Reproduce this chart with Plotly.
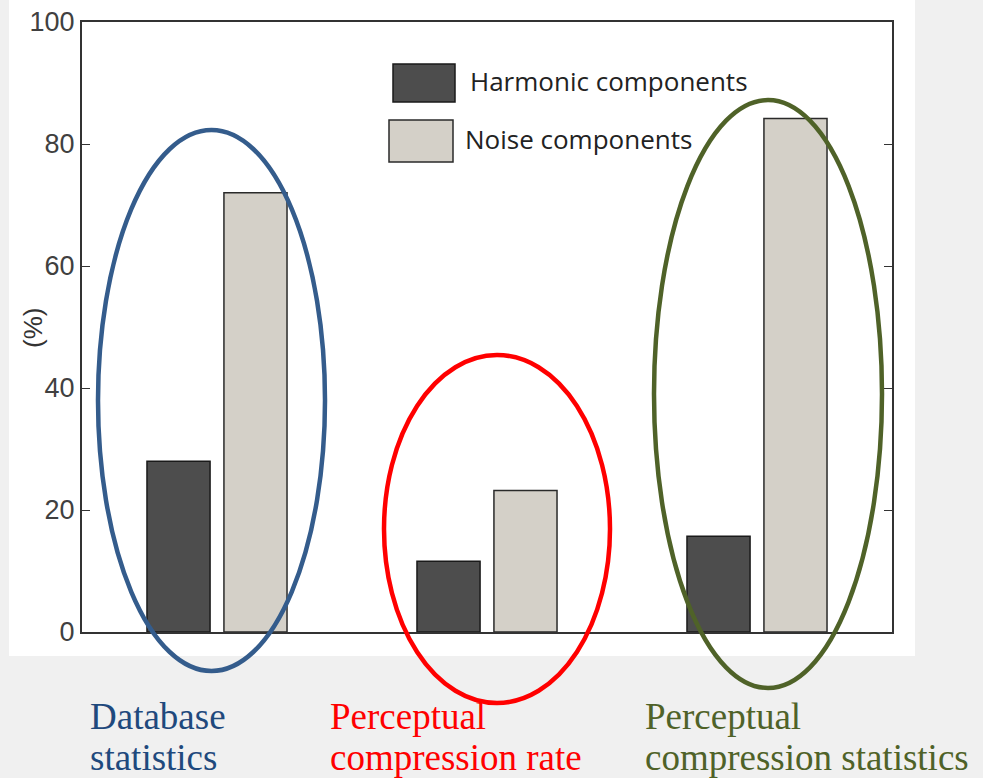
import plotly.graph_objects as go

categories = ["Database statistics", "Perceptual compression rate", "Perceptual compression statistics"]
series_names = ["Harmonic components", "Noise components"]
harmonic = [28.0, 11.6, 15.7]
noise = [72.0, 23.2, 84.2]
y_ticks = [0, 20, 40, 60, 80, 100]
y_title = "(%)"
label_lines = [["Database", "statistics"], ["Perceptual", "compression rate"], ["Perceptual", "compression statistics"]]

W, H = 983, 778
L, R, T, B = 82, 91, 22, 146
PW, PH = W - L - R, H - T - B

def px(x):
    return (x - L) / PW

def py(y):
    return (H - B - y) / PH

fig = go.Figure()
fig.add_trace(go.Bar(x=categories, y=harmonic, name=series_names[0],
                     marker=dict(color="#4d4d4d", line=dict(color="#1a1a1a", width=1.5))))
fig.add_trace(go.Bar(x=categories, y=noise, name=series_names[1],
                     marker=dict(color="#d4d0c8", line=dict(color="#2a2a2a", width=1.5))))

shapes = []
# white panel behind chart
shapes.append(dict(type="rect", xref="paper", yref="paper", x0=px(9), x1=px(915), y0=py(656), y1=py(0),
                   fillcolor="white", line=dict(width=0), layer="below"))
# legend swatches
shapes.append(dict(type="rect", xref="paper", yref="paper", x0=px(393), x1=px(455), y0=py(102), y1=py(64),
                   fillcolor="#4d4d4d", line=dict(color="#1a1a1a", width=1.5)))
shapes.append(dict(type="rect", xref="paper", yref="paper", x0=px(389), x1=px(453), y0=py(162), y1=py(120),
                   fillcolor="#d4d0c8", line=dict(color="#2a2a2a", width=1.5)))
# ellipses
ell = [((98, 130, 325, 671), "#345c8c"), ((384, 355, 610, 703), "#ff0000"), ((654, 100, 882, 688), "#4f6228")]
for (x0, y0, x1, y1), c in ell:
    shapes.append(dict(type="circle", xref="paper", yref="paper", x0=px(x0), x1=px(x1), y0=py(y1), y1=py(y0),
                       line=dict(color=c, width=4.5), fillcolor="rgba(0,0,0,0)", layer="above"))

annotations = [
    dict(xref="paper", yref="paper", x=px(468), y=py(81), xanchor="left", yanchor="middle",
         text=series_names[0], showarrow=False, font=dict(family="Open Sans", size=26, color="#222")),
    dict(xref="paper", yref="paper", x=px(463), y=py(139), xanchor="left", yanchor="middle",
         text=series_names[1], showarrow=False, font=dict(family="Open Sans", size=26, color="#222")),
    dict(xref="paper", yref="paper", x=px(33), y=py(328), xanchor="center", yanchor="middle",
         text=y_title, textangle=-90, showarrow=False,
         font=dict(family="Liberation Sans", size=26, color="#333")),
]
label_x = [88, 328, 643]
label_colors = ["#1f497d", "#ff0000", "#4f6228"]
line_centers = [716, 757]
for lines, lx, lc in zip(label_lines, label_x, label_colors):
    for line, cy in zip(lines, line_centers):
        annotations.append(dict(xref="paper", yref="paper", x=px(lx), y=py(cy), xanchor="left", yanchor="middle",
                                text=line, showarrow=False,
                                font=dict(family="Liberation Serif", size=37, color=lc)))

fig.update_layout(
    width=W, height=H, margin=dict(l=L, r=R, t=T, b=B, pad=0, autoexpand=False),
    paper_bgcolor="#f0f0f0", plot_bgcolor="white",
    barmode="group", bargap=0.43, bargroupgap=0.18,
    showlegend=False, shapes=shapes, annotations=annotations,
    xaxis=dict(range=[-0.5, 2.5], showticklabels=False, ticks="", showline=True, linecolor="#333",
               linewidth=2, mirror=True, showgrid=False, zeroline=False, automargin=False),
    yaxis=dict(range=[0, 100], tickvals=y_ticks, ticks="inside", ticklen=8, tickcolor="#333",
               showline=True, linecolor="#333", linewidth=2, mirror="ticks", showgrid=False, zeroline=False,
               automargin=False, ticklabelstandoff=0,
               tickfont=dict(family="Liberation Sans", size=27, color="#404040")),
)

fig.write_html("out.html")
